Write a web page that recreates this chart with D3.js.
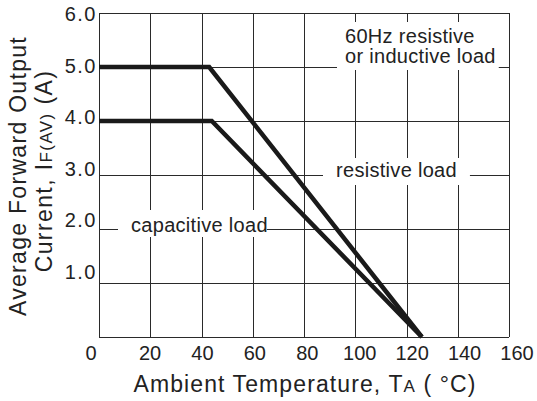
<!DOCTYPE html>
<html><head><meta charset="utf-8">
<script src="https://cdn.jsdelivr.net/npm/d3@7"></script>
<style>
body{margin:0;background:#fff}
svg{display:block}
text{font-family:"Liberation Sans",Arial,Helvetica,sans-serif;fill:#222}
</style>
</head><body><svg id="c" width="537" height="401"></svg>
<script>
// ---- data ----
const xTicks = [0,20,40,60,80,100,120,140,160];
const xTickLabels = ["0","20","40","60","80","100","120","140","160"];
const yTicks = [1,2,3,4,5,6];
const yTickLabels = ["1.0","2.0","3.0","4.0","5.0","6.0"];
const resistiveTemp = [0,43,126];
const resistiveCurrent = [5,5,0];
const capacitiveTemp = [0,44,126];
const capacitiveCurrent = [4,4,0];

// ---- layout ----
const svg = d3.select("#c");
const x = d3.scaleLinear().domain([0,160]).range([99,509]);
const y = d3.scaleLinear().domain([0,6]).range([337,13]);
// label positions in the scanned original drift slightly from the grid
const xLab = d3.scaleLinear().domain([0,20,160]).range([91,150,517]);
const yLab = d3.scaleLinear().domain([1,6]).range([278.5,21]);

const grid = svg.append("g").attr("stroke","#2a2a2a").attr("stroke-width",1.1).attr("shape-rendering","crispEdges");
xTicks.forEach(t=>{
  grid.append("line").attr("x1",Math.round(x(t))+0.5).attr("x2",Math.round(x(t))+0.5).attr("y1",y(6)).attr("y2",y(0));
});
[0,...yTicks].forEach(t=>{
  grid.append("line").attr("x1",x(0)).attr("x2",x(160)).attr("y1",Math.round(y(t))+0.5).attr("y2",Math.round(y(t))+0.5);
});

// tick labels
svg.append("g").selectAll("text").data(xTicks).join("text")
  .attr("x",d=>xLab(d)).attr("y",360).attr("text-anchor","middle")
  .attr("font-size",20).text((d,i)=>xTickLabels[i]);
svg.append("g").selectAll("text").data(yTicks).join("text")
  .attr("x",97).attr("y",d=>yLab(d)).attr("text-anchor","end")
  .attr("font-size",20).attr("letter-spacing",1.5).text((d,i)=>yTickLabels[i]);

// annotations with white boxes
const notes = [
  {lines:["60Hz resistive","or inductive load"], x:345, y:43, pad:[8,3,21,7]},
  {lines:["resistive load"], x:336, y:177, pad:[13,13,19,8]},
  {lines:["capacitive load"], x:131, y:232, pad:[13,-1,22,5]}
];
notes.forEach(n=>{
  const g = svg.append("g");
  const r = g.append("rect").attr("fill","#fff");
  const t = g.append("text").attr("font-size",20).attr("letter-spacing",0.3);
  n.lines.forEach((l,i)=>t.append("tspan").attr("x",n.x).attr("y",n.y+i*20).text(l));
  const b = t.node().getBBox();
  r.attr("x",n.x-n.pad[0]).attr("width",b.x+b.width-n.x+n.pad[0]+n.pad[1])
   .attr("y",n.y-n.pad[2]).attr("height",(n.lines.length-1)*20+n.pad[2]+n.pad[3]);
});

// curves
const line = d3.line().x(d=>x(d[0])).y(d=>y(d[1]));
[[resistiveTemp,resistiveCurrent],[capacitiveTemp,capacitiveCurrent]].forEach(([tx,cy])=>{
  svg.append("path").datum(tx.map((t,i)=>[t,cy[i]])).attr("d",line)
    .attr("fill","none").attr("stroke","#1a1a1a").attr("stroke-width",4.5)
    .attr("stroke-linejoin","miter");
});

// axis titles
const xt = svg.append("text").attr("x",305).attr("y",392).attr("text-anchor","middle")
  .attr("font-size",23).attr("letter-spacing",1.1);
xt.append("tspan").text("Ambient Temperature, T");
xt.append("tspan").attr("font-size",17).text("A");
xt.append("tspan").text(" ( °C)");

const yt1 = svg.append("text").attr("transform","translate(26,176) rotate(-90)")
  .attr("text-anchor","middle").attr("font-size",23).attr("letter-spacing",1.3)
  .text("Average Forward Output");
const yt2 = svg.append("text").attr("transform","translate(52,171) rotate(-90)")
  .attr("text-anchor","middle").attr("font-size",23).attr("letter-spacing",1.4);
yt2.append("tspan").text("Current, I");
yt2.append("tspan").attr("font-size",17).text("F(AV)");
yt2.append("tspan").text(" (A)");
</script>
</body></html>
